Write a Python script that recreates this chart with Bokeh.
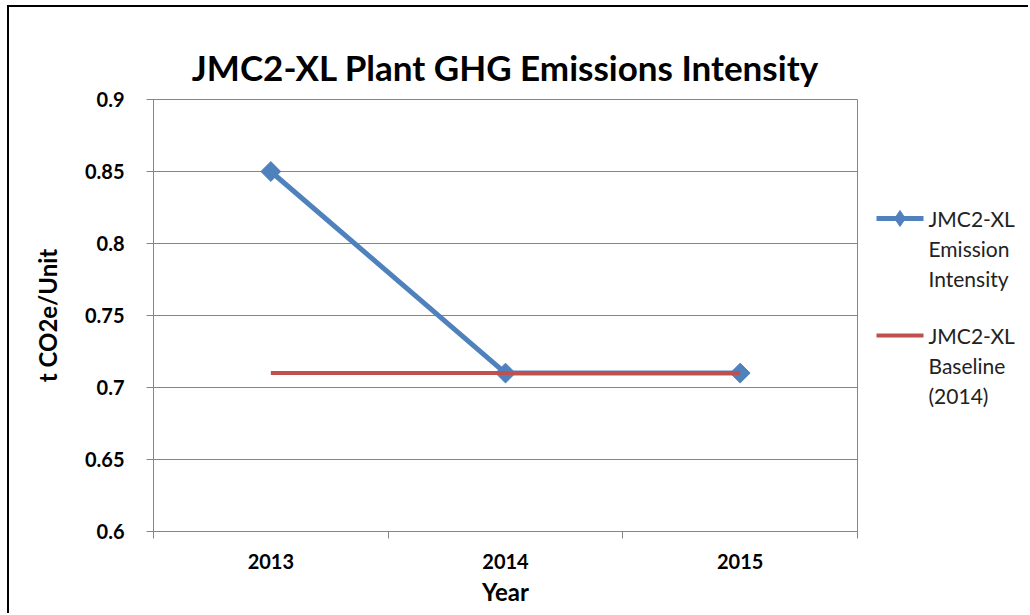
import math
from bokeh.plotting import figure
from bokeh.layouts import row
from bokeh.models import (Range1d, FixedTicker, CustomJSTickFormatter,
                          ColumnDataSource)
from bokeh.core.properties import value
from bokeh.embed import file_html
from bokeh.resources import INLINE

# ---- data ----
years = ["2013", "2014", "2015"]
intensity = [0.85, 0.71, 0.71]
baseline = [0.71, 0.71, 0.71]
y_ticks = [0.6, 0.65, 0.7, 0.75, 0.8, 0.85, 0.9]
title_text = "JMC2-XL Plant GHG Emissions Intensity"
x_title = "Year"
y_title = "t CO2e/Unit"
legend_blue = ["JMC2-XL", "Emission", "Intensity"]
legend_red = ["JMC2-XL", "Baseline", "(2014)"]

BLUE = "#4F81BD"
RED = "#C0504D"
GRID = "#868686"
FONT = "Lato"

H = 606
W_MAIN, W_LEG = 849, 170
ML, MT, MR, MB = 144, 92, 1, 82
FRAME_H = H - MT - MB

xs = [i + 0.5 for i in range(len(years))]
src = ColumnDataSource(dict(x=xs, intensity=intensity, baseline=baseline))

p = figure(width=W_MAIN, height=H, output_backend="svg", toolbar_location=None,
           x_range=Range1d(0, len(years)), y_range=Range1d(y_ticks[0], y_ticks[-1]),
           min_border_left=ML, min_border_right=MR, min_border_top=MT,
           min_border_bottom=MB)

p.outline_line_color = GRID
p.outline_line_width = 1

p.title.text = title_text
p.title.align = "center"
p.title.text_font = FONT
p.title.text_font_size = "35px"
p.title.text_font_style = "bold"
p.title.text_color = "black"
p.title.standoff = 23

# x axis
xa = p.xaxis[0]
xa.ticker = FixedTicker(ticks=xs, minor_ticks=list(range(len(years) + 1)))
xa.major_label_overrides = {x: y for x, y in zip(xs, years)}
xa.major_tick_line_color = None
xa.major_tick_out = 0
xa.major_tick_in = 0
xa.minor_tick_line_color = GRID
xa.minor_tick_out = 7
xa.minor_tick_in = 0
xa.axis_line_color = GRID
xa.major_label_text_font = FONT
xa.major_label_text_font_style = "bold"
xa.major_label_text_font_size = "20px"
xa.major_label_text_color = "black"
xa.major_label_standoff = 15
xa.axis_label = x_title
xa.axis_label_text_font = FONT
xa.axis_label_text_font_style = "bold"
xa.axis_label_text_font_size = "24px"
xa.axis_label_text_color = "black"
xa.axis_label_standoff = 5

# y axis
ya = p.yaxis[0]
ya.ticker = FixedTicker(ticks=y_ticks)
ya.formatter = CustomJSTickFormatter(code="return String(Math.round(tick * 100) / 100);")
ya.major_tick_line_color = GRID
ya.major_tick_out = 7
ya.major_tick_in = 0
ya.minor_tick_line_color = None
ya.axis_line_color = GRID
ya.major_label_text_font = FONT
ya.major_label_text_font_style = "bold"
ya.major_label_text_font_size = "20px"
ya.major_label_text_color = "black"
ya.major_label_standoff = 22
ya.axis_label = y_title
ya.axis_label_text_font = FONT
ya.axis_label_text_font_style = "bold"
ya.axis_label_text_font_size = "24px"
ya.axis_label_text_color = "black"
ya.axis_label_standoff = 20

p.xgrid.grid_line_color = None
p.ygrid.ticker = FixedTicker(ticks=y_ticks)
p.ygrid.grid_line_color = GRID
p.ygrid.grid_line_width = 1

# series
p.line(x="x", y="intensity", source=src, line_color=BLUE, line_width=5)
p.scatter(x="x", y="intensity", source=src, marker="square",
          angle=math.pi / 4, size=14, fill_color=BLUE, line_color=BLUE)
p.line(x="x", y="baseline", source=src, line_color=RED, line_width=4)

# ---- legend panel: frame is aligned with the main frame; pixel offsets
# measured downward from the frame top ----
L = figure(width=W_LEG, height=H, output_backend="svg", toolbar_location=None,
           x_range=Range1d(0, W_LEG), y_range=Range1d(FRAME_H, 0),
           x_axis_location=None, y_axis_location=None, min_border=0)
L.outline_line_color = None
L.xgrid.grid_line_color = None
L.ygrid.grid_line_color = None

SW_X0, SW_X1, TX = 18, 65, 70
ROW = 30
Y_BLUE, Y_RED = 119, 236

L.line(x=[SW_X0, SW_X1], y=[Y_BLUE, Y_BLUE], line_color=BLUE, line_width=5)
L.scatter(x=[(SW_X0 + SW_X1) / 2], y=[Y_BLUE], marker="diamond", size=16,
          fill_color=BLUE, line_color=BLUE)
L.line(x=[SW_X0, SW_X1], y=[Y_RED, Y_RED], line_color=RED, line_width=4)

lab_src = ColumnDataSource(dict(
    x=[TX] * (len(legend_blue) + len(legend_red)),
    y=[Y_BLUE + i * ROW for i in range(len(legend_blue))] +
      [Y_RED + i * ROW for i in range(len(legend_red))],
    text=legend_blue + legend_red))
L.text(x="x", y="y", text="text", source=lab_src, text_font=value(FONT),
       text_font_size="21px", text_color="#222222", text_align="left",
       text_baseline="middle")

layout = row(p, L, spacing=0)
layout.styles = {"margin-left": "7px", "margin-top": "5px",
                 "border-left": "2px solid black", "border-top": "2px solid black"}

open("out.html", "w").write(file_html(layout, INLINE))
